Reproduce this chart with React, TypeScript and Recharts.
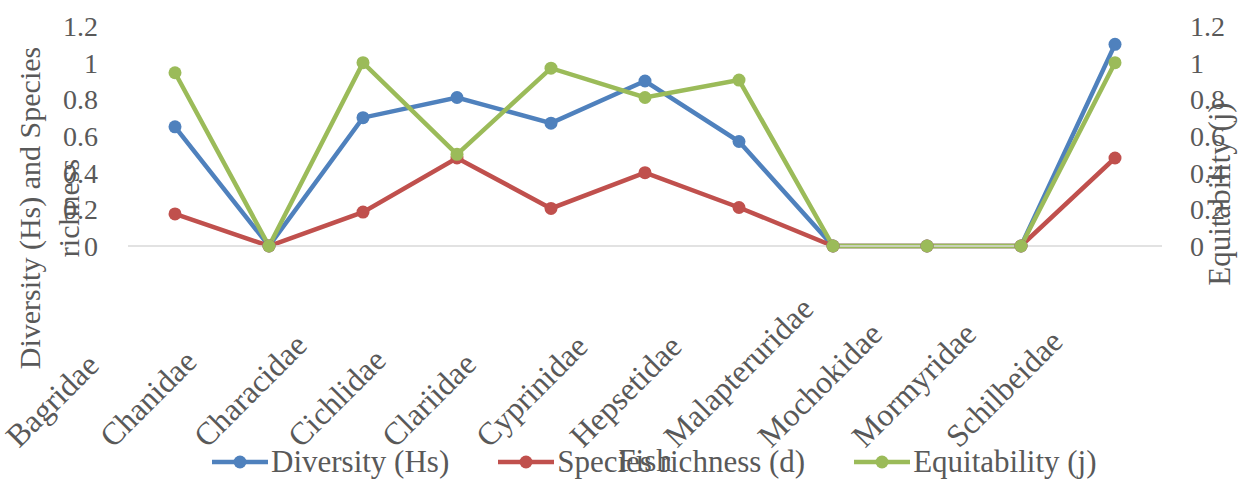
import React from 'react';
import { LineChart, Line, XAxis, YAxis, Legend } from 'recharts';

const families = ['Bagridae', 'Chanidae', 'Characidae', 'Cichlidae', 'Clariidae', 'Cyprinidae', 'Hepsetidae', 'Malapteruridae', 'Mochokidae', 'Mormyridae', 'Schilbeidae'];
const diversity = [0.65, 0, 0.70, 0.81, 0.67, 0.90, 0.57, 0, 0, 0, 1.10];
const richness = [0.175, 0, 0.185, 0.48, 0.205, 0.40, 0.21, 0, 0, 0, 0.48];
const equitability = [0.945, 0, 1.0, 0.50, 0.97, 0.81, 0.905, 0, 0, 0, 1.0];
const yTicks = [0, 0.2, 0.4, 0.6, 0.8, 1, 1.2];

const seriesNames = ['Diversity (Hs)', 'Species richness (d)', 'Equitability (j)'];
const seriesKeys = ['diversity', 'richness', 'equitability'];
const colors = ['#4F81BD', '#C0504D', '#9BBB59'];

const data = families.map((name, i) => ({
  name,
  diversity: diversity[i],
  richness: richness[i],
  equitability: equitability[i],
}));

const FONT = 'Liberation Serif, Tinos, Times New Roman, DejaVu Serif, serif';
const TEXT = '#595959';

const FamilyTick = (props: any) => {
  const { x, y, payload } = props;
  const tx = x - 156;
  const ty = y + 203;
  return (
    <text x={tx} y={ty} transform={`rotate(-45 ${tx} ${ty})`} textAnchor="start" fill={TEXT} fontSize={32} style={{ fontFamily: FONT }}>
      {payload.value}
    </text>
  );
};

const ValueTick = (props: any) => {
  const { x, y, payload, textAnchor } = props;
  return (
    <text x={x} y={y} dy="0.355em" textAnchor={textAnchor} fill={TEXT} fontSize={28} style={{ fontFamily: FONT }}>
      {payload.value}
    </text>
  );
};

const LeftTitle = (props: any) => {
  const vb = props.viewBox || { x: 0, y: 26, width: 128, height: 220 };
  const cy = vb.y + 182;
  const x1 = vb.x + 40;
  const x2 = vb.x + 79;
  return (
    <g fill={TEXT} fontSize={30} style={{ fontFamily: FONT }}>
      <text x={x1} y={cy} transform={`rotate(-90 ${x1} ${cy})`} textAnchor="middle">Diversity (Hs) and Species</text>
      <text x={x2} y={cy} transform={`rotate(-90 ${x2} ${cy})`} textAnchor="middle">richness</text>
    </g>
  );
};

const RightTitle = (props: any) => {
  const vb = props.viewBox || { x: 1162, y: 26, width: 82, height: 220 };
  const cy = vb.y + 168;
  const x = vb.x + 68;
  return (
    <text x={x} y={cy} transform={`rotate(-90 ${x} ${cy})`} textAnchor="middle" fill={TEXT} fontSize={31} style={{ fontFamily: FONT }}>
      Equitability (j)
    </text>
  );
};

const BottomTitle = (props: any) => {
  const vb = props.viewBox || { x: 128, y: 246, width: 1034, height: 234 };
  return (
    <text x={vb.x + vb.width / 2} y={vb.y + 225} textAnchor="middle" fill={TEXT} fontSize={31} style={{ fontFamily: FONT }}>
      Fish
    </text>
  );
};

const LegendContent = () => (
  <div style={{ display: 'flex', alignItems: 'center', paddingLeft: 212, height: 36, fontFamily: FONT, fontSize: 31, lineHeight: '36px', color: TEXT, whiteSpace: 'nowrap' }}>
    {seriesNames.map((n, i) => (
      <div key={n} style={{ display: 'flex', alignItems: 'center', marginRight: 49 }}>
        <svg width={56} height={36} style={{ marginRight: 3 }}>
          <line x1={0} y1={18} x2={56} y2={18} stroke={colors[i]} strokeWidth={4.5} />
          <circle cx={28} cy={18} r={6.5} fill={colors[i]} />
        </svg>
        <span>{n}</span>
      </div>
    ))}
  </div>
);

export default function App() {
  return (
    <div style={{ position: 'absolute', left: 0, top: 0, width: 1244, height: 480, background: '#fff', fontFamily: FONT }}>
      <LineChart width={1244} height={480} data={data} margin={{ top: 26, right: 0, bottom: 0, left: 0 }} style={{ fontFamily: FONT }}>
        <XAxis
          dataKey="name"
          height={234}
          interval={0}
          padding={{ left: 47, right: 47 }}
          tickLine={false}
          tickSize={0}
          tickMargin={0}
          axisLine={{ stroke: '#D9D9D9', strokeWidth: 1.5 }}
          tick={<FamilyTick />}
          label={<BottomTitle />}
        />
        <YAxis
          yAxisId="left"
          width={128}
          domain={[0, 1.2]}
          ticks={yTicks}
          interval={0}
          axisLine={false}
          tickLine={false}
          tickSize={0}
          tickMargin={30}
          tick={<ValueTick />}
          label={<LeftTitle />}
        />
        <YAxis
          yAxisId="right"
          orientation="right"
          width={82}
          domain={[0, 1.2]}
          ticks={yTicks}
          interval={0}
          axisLine={false}
          tickLine={false}
          tickSize={0}
          tickMargin={28}
          tick={<ValueTick />}
          label={<RightTitle />}
        />
        {seriesKeys.map((k, i) => (
          <Line
            key={k}
            yAxisId={i === 2 ? 'right' : 'left'}
            type="linear"
            dataKey={k}
            name={seriesNames[i]}
            stroke={colors[i]}
            strokeWidth={4.5}
            dot={{ r: 6.5, fill: colors[i], stroke: colors[i], strokeWidth: 0 }}
            activeDot={false}
            isAnimationActive={false}
          />
        ))}
        <Legend
          layout="horizontal"
          verticalAlign="middle"
          align="center"
          content={<LegendContent />}
          wrapperStyle={{ top: 444, left: 0, width: 1244, height: 36 }}
        />
      </LineChart>
    </div>
  );
}
